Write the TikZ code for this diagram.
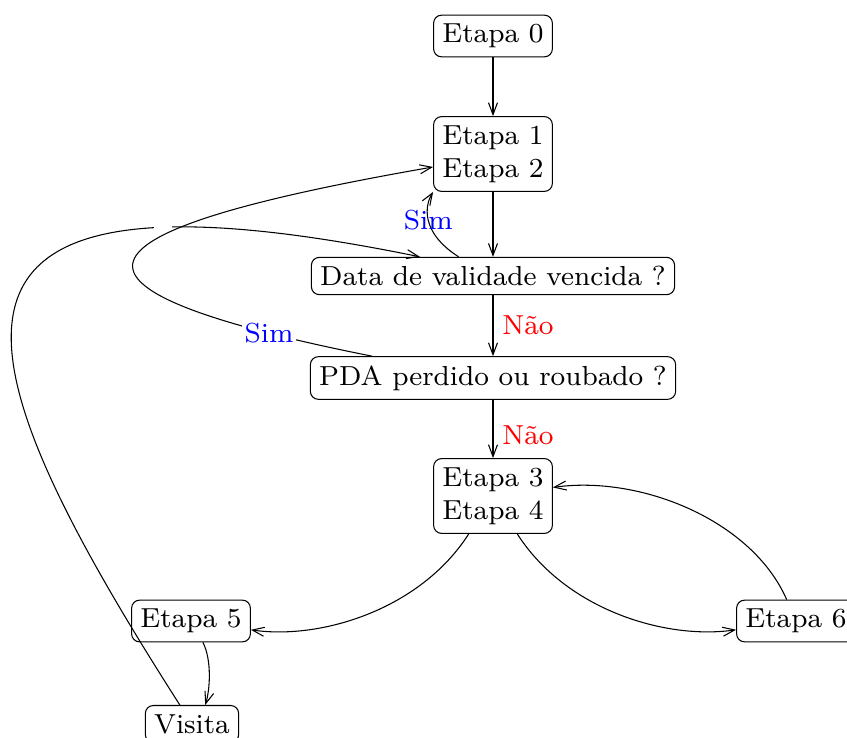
\documentclass[tikz,border=0pt]{standalone}
\usepackage{fontspec}
\setmainfont{lmroman8-regular.otf}
\usetikzlibrary{arrows.meta,calc}
\begin{document}
\begin{tikzpicture}[x=0.3778pt,y=-0.3778pt,
  font=\fontsize{10.4}{12.5}\selectfont,
  box/.style={draw, rounded corners=3pt, inner sep=3.33pt, align=left},
  arr/.style={-{Straight Barb[length=4.5pt,width=3.4pt]}},
  yes/.style={text=blue},
  no/.style={text=red, right},
  ]
\useasboundingbox (0,0) rectangle (847,738);
\node[box] (E0) at (493,36) {Etapa 0};
\node[box] (E12) at (493,154) {Etapa 1\\Etapa 2};
\node[box] (D) at (493,276) {Data de validade vencida ?};
\node[box] (P) at (493,378) {PDA perdido ou roubado ?};
\node[box] (E34) at (493,496) {Etapa 3\\Etapa 4};
\node[box] (E5) at (191,621) {Etapa 5};
\node[box] (E6) at (796,621) {Etapa 6};
\node[box] (V) at (192,724) {Visita};

\draw[arr] (E0) -- (E12);
\draw[arr] (E12) -- (D);
\draw[arr] (D) -- node[no] (n1) {Não} (P);
\draw[arr] (P) -- node[no,pos=0.6] (n2) {Não} (E34);
\draw[arr] ([xshift=-13pt]D.north) .. controls (420,232) and (425,205) .. node[yes,pos=0.5] (s1) {Sim} (E12.south west);
\draw[arr] (V) .. controls (-55,338) and (-102,150) .. node[pos=0.79,fill=white] (gap) {} ([xshift=-27.6pt]D.north);
\draw[arr] ([xshift=-45.7pt]P.north) .. controls (14,285) and (77,229) .. node[yes,fill=white,inner sep=1pt,pos=0.11] (s2) {Sim} ([yshift=-4.9pt]E12.west);
\draw[arr] (E34) .. controls (420,610) and (320,640) .. (E5);
\draw[arr] (E34) .. controls (566,610) and (666,640) .. (E6);
\draw[arr] (E6) .. controls (752,520) and (640,475) .. (E34);
\draw[arr] ([xshift=4.5pt]E5.south) .. controls (212,660) and (210,690) .. ([xshift=5pt]V.north);
\end{tikzpicture}
\end{document}
